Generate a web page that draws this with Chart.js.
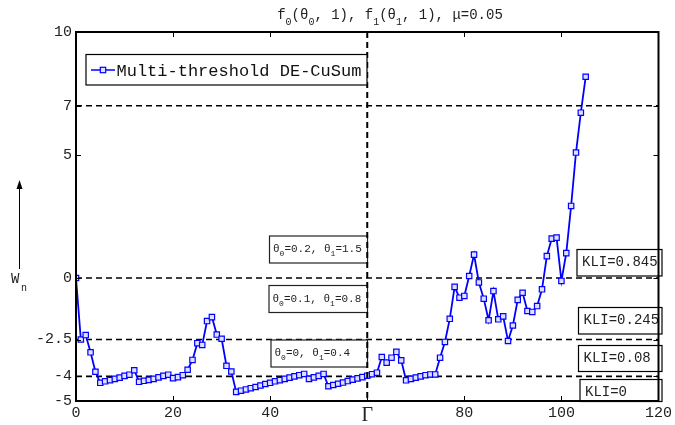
<!DOCTYPE html>
<html><head><meta charset="utf-8">
<script src="https://cdn.jsdelivr.net/npm/chart.js@4/dist/chart.umd.min.js"></script>
<style>html,body{margin:0;padding:0;background:#fff}</style>
</head><body>
<canvas id="c" width="675" height="425"></canvas>
<script>
// ---- data ----
const wn = [0,-2.5,-2.32,-3.02,-3.81,-4.26,-4.2,-4.15,-4.1,-4.05,
  -3.98,-3.93,-3.75,-4.22,-4.18,-4.14,-4.1,-4.04,-3.98,-3.93,
  -4.07,-4.03,-3.95,-3.73,-3.33,-2.65,-2.72,-1.75,-1.59,-2.3,
  -2.47,-3.57,-3.8,-4.63,-4.58,-4.53,-4.48,-4.43,-4.37,-4.31,
  -4.26,-4.2,-4.15,-4.1,-4.05,-4.0,-3.95,-3.9,-4.1,-4.04,
  -3.98,-3.9,-4.4,-4.35,-4.3,-4.25,-4.19,-4.13,-4.08,-4.03,
  -3.97,-3.91,-3.85,-3.21,-3.44,-3.24,-3.0,-3.35,-4.16,-4.1,
  -4.05,-4.0,-3.95,-3.92,-3.92,-3.24,-2.6,-1.66,-0.36,-0.8,
  -0.73,0.08,0.95,-0.18,-0.84,-1.72,-0.53,-1.68,-1.56,-2.56,
  -1.93,-0.89,-0.6,-1.34,-1.38,-1.14,-0.46,0.89,1.6,1.64,
  -0.12,1.01,2.93,5.1,6.72,8.18];
const xTickValues = [0,20,40,60,80,100,120];
const xTickLabels = ['0','20','40','Γ','80','100','120'];
const yTickValues = [-5,-4,-2.5,0,5,7,10];
const yTickLabels = ['-5','-4','-2.5','0','5','7','10'];
const thresholds = [7,0,-2.5,-4];
const changePoint = 60;
const seriesName = 'Multi-threshold DE-CuSum';
const kliLabels = ['KLI=0.845','KLI=0.245','KLI=0.08','KLI=0'];
const thetaLabels = [
  [['θ',0],['0',1],['=0.2, ',0],['θ',0],['1',1],['=1.5',0]],
  [['θ',0],['0',1],['=0.1, ',0],['θ',0],['1',1],['=0.8',0]],
  [['θ',0],['0',1],['=0, ',0],['θ',0],['1',1],['=0.4',0]]
];
const titleParts = [['f',0],['0',1],['(',0],['θ',0],['0',1],[', 1), ',0],['f',0],['1',1],['(',0],['θ',0],['1',1],[', 1), μ=0.05',0]];

const MONO = '"Liberation Mono", "DejaVu Sans Mono", monospace';
const BLUE = '#0000ff';

function rich(ctx, parts, x, y, size, subSize, align) {
  let w = 0;
  parts.forEach(([t,s]) => { ctx.font = (s?subSize:size)+'px '+MONO; w += ctx.measureText(t).width; });
  let cx = align === 'center' ? x - w/2 : x;
  ctx.textAlign = 'left'; ctx.textBaseline = 'alphabetic';
  parts.forEach(([t,s]) => {
    ctx.font = (s?subSize:size)+'px '+MONO;
    ctx.fillText(t, cx, s ? y + size*0.4 : y);
    cx += ctx.measureText(t).width;
  });
}
function box(ctx, x, y, w, h, stroke) {
  ctx.save();
  ctx.fillStyle = '#fff'; ctx.fillRect(x, y, w, h);
  ctx.strokeStyle = stroke || '#000'; ctx.lineWidth = 1.2; ctx.setLineDash([]);
  ctx.strokeRect(x, y, w, h);
  ctx.restore();
}
function marker(ctx, x, y) {
  ctx.fillStyle = '#dfe0ff'; ctx.strokeStyle = BLUE; ctx.lineWidth = 1.2;
  ctx.fillRect(x-2.7, y-2.7, 5.4, 5.4); ctx.strokeRect(x-2.7, y-2.7, 5.4, 5.4);
}

const decor = {
  id: 'decor',
  beforeDatasetsDraw(chart) {
    const {ctx, chartArea: a, scales: {x, y}} = chart;
    ctx.save();
    ctx.strokeStyle = '#000'; ctx.lineWidth = 1.6; ctx.setLineDash([6,4]);
    thresholds.forEach(t => {
      const py = y.getPixelForValue(t);
      ctx.beginPath(); ctx.moveTo(a.left, py); ctx.lineTo(a.right, py); ctx.stroke();
    });
    ctx.restore();
  },
  afterDatasetsDraw(chart) {
    const {ctx, chartArea: a, scales: {x, y}} = chart;
    ctx.save();
    // theta boxes
    const tb = [[269.5,236,98,27],[269,285.5,98.5,27],[271,340,96.5,27]];
    tb.forEach((b, i) => {
      box(ctx, b[0], b[1], b[2], b[3], '#222');
      ctx.fillStyle = '#222';
      rich(ctx, thetaLabels[i], b[0]+3.5, b[1]+16, 11, 8, 'left');
    });
    // change point line
    const gx = x.getPixelForValue(changePoint);
    ctx.strokeStyle = '#000'; ctx.lineWidth = 2; ctx.setLineDash([6,4]);
    ctx.beginPath(); ctx.moveTo(gx, a.top); ctx.lineTo(gx, a.bottom); ctx.stroke();
    ctx.setLineDash([]);
    // KLI boxes
    const kb = [[577,249.5,85,26.5],[578.5,307.5,83.5,26.5],[578.5,345.5,83.5,26],[580,379.5,82,22]];
    kb.forEach((b, i) => {
      box(ctx, b[0], b[1], b[2], b[3], '#000');
      ctx.fillStyle = '#222'; ctx.font = '14px '+MONO; ctx.textAlign='left'; ctx.textBaseline='alphabetic';
      ctx.fillText(kliLabels[i], b[0]+5, b[1]+16);
    });
    // legend
    box(ctx, 86, 54.5, 281, 30.5, '#000');
    ctx.save();
    ctx.beginPath(); ctx.rect(86, 54.5, 281, 30.5); ctx.clip();
    ctx.strokeStyle = BLUE; ctx.lineWidth = 1.6;
    ctx.beginPath(); ctx.moveTo(91, 70); ctx.lineTo(115, 70); ctx.stroke();
    marker(ctx, 103, 70);
    ctx.fillStyle = '#111'; ctx.font = '17px '+MONO; ctx.textAlign='left'; ctx.textBaseline='alphabetic';
    ctx.fillText(seriesName, 116.5, 76);
    ctx.restore();
    // frame
    ctx.strokeStyle = '#000'; ctx.lineWidth = 2;
    ctx.strokeRect(a.left, a.top, a.right - a.left, a.bottom - a.top);
    // ticks
    ctx.lineWidth = 1;
    xTickValues.slice(1,-1).forEach(v => {
      const px = Math.round(x.getPixelForValue(v)) + 0.5;
      ctx.beginPath(); ctx.moveTo(px, a.bottom); ctx.lineTo(px, a.bottom-5);
      ctx.moveTo(px, a.top); ctx.lineTo(px, a.top+5); ctx.stroke();
    });
    yTickValues.slice(1,-1).forEach(v => {
      const py = Math.round(y.getPixelForValue(v)) + 0.5;
      ctx.beginPath(); ctx.moveTo(a.left, py); ctx.lineTo(a.left+5, py);
      ctx.moveTo(a.right, py); ctx.lineTo(a.right-5, py); ctx.stroke();
    });
    ctx.restore();
  },
  afterDraw(chart) {
    const {ctx} = chart;
    ctx.save();
    ctx.fillStyle = '#222';
    rich(ctx, titleParts, 390, 19, 14, 10, 'center');
    // y label with arrow
    ctx.strokeStyle = '#000'; ctx.lineWidth = 1;
    ctx.beginPath(); ctx.moveTo(19.5, 269); ctx.lineTo(19.5, 186); ctx.stroke();
    ctx.fillStyle = '#000';
    ctx.beginPath(); ctx.moveTo(19.5, 180); ctx.lineTo(16.5, 189); ctx.lineTo(22.5, 189); ctx.closePath(); ctx.fill();
    ctx.fillStyle = '#222';
    ctx.font = '14px '+MONO; ctx.textAlign='left';
    ctx.fillText('W', 11, 283);
    ctx.font = '10px '+MONO;
    ctx.fillText('n', 21, 291);
    ctx.restore();
  }
};

new Chart(document.getElementById('c'), {
  type: 'line',
  data: {
    datasets: [{
      label: seriesName,
      data: wn.map((v, i) => ({x: i, y: v})),
      borderColor: BLUE, borderWidth: 1.8, tension: 0,
      pointStyle: 'rect', pointRadius: 3.8,
      pointBorderColor: BLUE, pointBackgroundColor: '#dfe0ff', pointBorderWidth: 1.2
    }]
  },
  options: {
    responsive: false, devicePixelRatio: 1, animation: false,
    layout: {padding: {left: 0, right: 14, top: 32, bottom: 0}},
    plugins: {legend: {display: false}, tooltip: {enabled: false}},
    scales: {
      x: {
        type: 'linear', min: 0, max: 120,
        afterBuildTicks: s => { s.ticks = xTickValues.map(v => ({value: v})); },
        afterFit: s => { s.height = 24; },
        grid: {display: false, drawTicks: false}, border: {display: false},
        ticks: {
          autoSkip: false, maxRotation: 0, padding: 3, color: '#222',
          callback: v => xTickLabels[xTickValues.indexOf(v)],
          font: c => (c.tick && c.tick.value === changePoint)
            ? {family: '"Liberation Serif", serif', size: 20}
            : {family: MONO, size: 15}
        }
      },
      y: {
        type: 'linear', min: -5, max: 10,
        afterBuildTicks: s => { s.ticks = yTickValues.map(v => ({value: v})); },
        afterFit: s => { s.width = 76; },
        grid: {display: false, drawTicks: false}, border: {display: false},
        ticks: {
          autoSkip: false, padding: 4, color: '#222',
          callback: v => yTickLabels[yTickValues.indexOf(v)],
          font: {family: MONO, size: 15}
        }
      }
    }
  },
  plugins: [decor]
});
</script>
</body></html>
